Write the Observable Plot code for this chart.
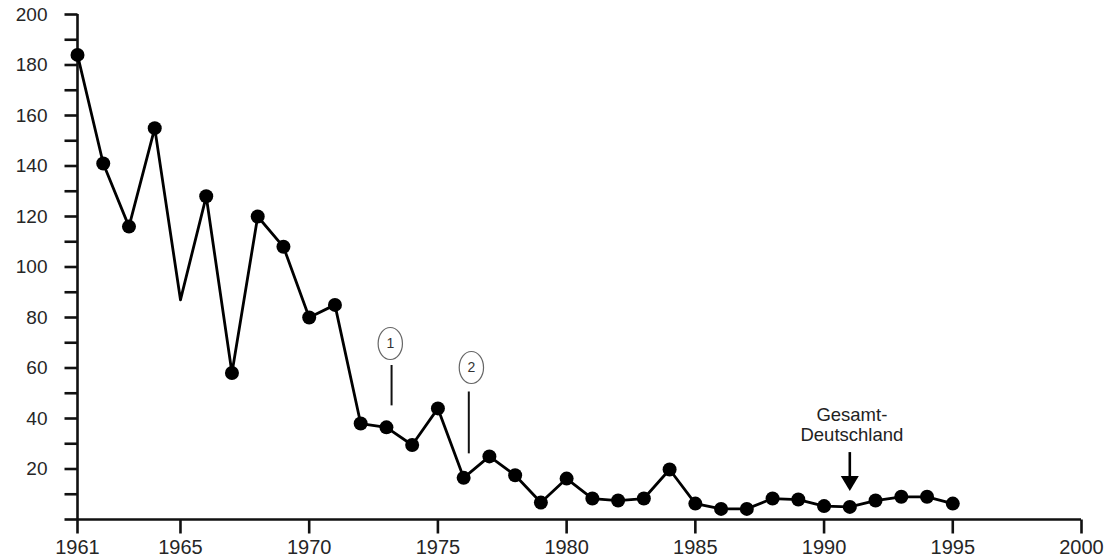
<!DOCTYPE html>
<html>
<head>
<meta charset="utf-8">
<script src="https://cdn.jsdelivr.net/npm/d3@7"></script>
<script src="https://cdn.jsdelivr.net/npm/@observablehq/plot@0.6"></script>
<style>
  html, body { margin: 0; padding: 0; background: #fff; }
  #chart { width: 1111px; height: 557px; }
  svg { font-family: "Liberation Sans", Arial, sans-serif; }
</style>
</head>
<body>
<div id="chart"></div>
<script>
const years = [1961,1962,1963,1964,1965,1966,1967,1968,1969,1970,1971,1972,1973,1974,1975,1976,1977,1978,1979,1980,1981,1982,1983,1984,1985,1986,1987,1988,1989,1990,1991,1992,1993,1994,1995];
const values = [184,141,116,155,87,128,58,120,108,80,85,38,36.5,29.5,44,16.5,25,17.5,6.7,16.2,8.3,7.5,8.3,19.8,6.3,4.2,4.2,8.3,7.9,5.3,5.0,7.5,9.0,9.0,6.3];
const noMarkerYears = [1965];
const xTicks = [1961,1965,1970,1975,1980,1985,1990,1995,2000];
const yTicks = [0,10,20,30,40,50,60,70,80,90,100,110,120,130,140,150,160,170,180,190,200];
const notes = [
  {label: "1", x: 1973.2, xLabel: 1973.15, yLow: 45, yHigh: 61, yLabel: 69.7},
  {label: "2", x: 1976.2, xLabel: 1976.3, yLow: 26, yHigh: 50.5, yLabel: 60.2}
];
const reunification = {label: "Gesamt-\nDeutschland", x: 1991, yTail: 26.5, yTip: 11.3, yText: 31};

const data = years.map((y, i) => ({year: y, value: values[i]}));
const dotData = data.filter(d => !noMarkerYears.includes(d.year));

const ellipse = {
  draw(ctx, size) {
    const r = Math.sqrt(size / Math.PI);
    const rx = r * 0.76, ry = r, k = 0.5523;
    ctx.moveTo(rx, 0);
    ctx.bezierCurveTo(rx, ry * k, rx * k, ry, 0, ry);
    ctx.bezierCurveTo(-rx * k, ry, -rx, ry * k, -rx, 0);
    ctx.bezierCurveTo(-rx, -ry * k, -rx * k, -ry, 0, -ry);
    ctx.bezierCurveTo(rx * k, -ry, rx, -ry * k, rx, 0);
    ctx.closePath();
  }
};
const downHead = {
  draw(ctx) {
    ctx.moveTo(-9, -15);
    ctx.lineTo(9, -15);
    ctx.lineTo(0, 0);
    ctx.closePath();
  }
};
const leftTick = {draw(ctx) { ctx.moveTo(-13, 0); ctx.lineTo(0, 0); }};
const downTick = {draw(ctx) { ctx.moveTo(0, 0); ctx.lineTo(0, 14); }};

const chart = Plot.plot({
  width: 1111,
  height: 557,
  marginLeft: 77,
  marginRight: 30,
  marginTop: 14,
  marginBottom: 38,
  style: {fontFamily: "'Liberation Sans', Arial, sans-serif", color: "#222", background: "#fff", overflow: "visible"},
  x: {domain: [1961, 2000]},
  y: {domain: [0, 200]},
  marks: [
    Plot.axisY({ticks: yTicks, tickSize: 0, tickPadding: 30, fontSize: 19, fill: "#262626",
      tickFormat: d => (d > 0 && d % 20 === 0 ? String(d) : "")}),
    Plot.axisX({ticks: xTicks, tickSize: 0, tickPadding: 20, fontSize: 20, fill: "#262626",
      tickFormat: d => String(d)}),
    Plot.dot(yTicks, {x: () => 1961, y: d => d, symbol: leftTick, r: 5, fill: "none", stroke: "#111", strokeWidth: 2.6}),
    Plot.dot(xTicks, {x: d => d, y: () => 0, symbol: downTick, r: 5, fill: "none", stroke: "#111", strokeWidth: 2.6}),
    Plot.ruleX([1961], {y1: 0, y2: 200, stroke: "#111", strokeWidth: 2.6}),
    Plot.ruleY([0], {x1: 1961, x2: 2000, stroke: "#111", strokeWidth: 2.6}),
    Plot.line(data, {x: "year", y: "value", stroke: "#000", strokeWidth: 2.8}),
    Plot.dot(dotData, {x: "year", y: "value", r: 7, fill: "#000", stroke: "none"}),
    Plot.ruleX(notes, {x: "x", y1: "yLow", y2: "yHigh", stroke: "#111", strokeWidth: 2}),
    Plot.dot(notes, {x: "xLabel", y: "yLabel", r: 16, symbol: ellipse, fill: "#fff", stroke: "#666", strokeWidth: 1.2}),
    Plot.text(notes, {x: "xLabel", y: "yLabel", text: "label", fontSize: 14, fill: "#333"}),
    Plot.ruleX([reunification], {x: "x", y1: "yTail", y2: d => d.yTip + 4, stroke: "#000", strokeWidth: 2.6}),
    Plot.dot([reunification], {x: "x", y: "yTip", symbol: downHead, r: 5, fill: "#000", stroke: "none"}),
    Plot.text([reunification], {x: d => d.x + 0.08, y: "yText", text: "label", lineAnchor: "bottom", lineHeight: 1.1, fontSize: 18.5, fill: "#222"})
  ]
});
document.getElementById("chart").appendChild(chart);
</script>
</body>
</html>
